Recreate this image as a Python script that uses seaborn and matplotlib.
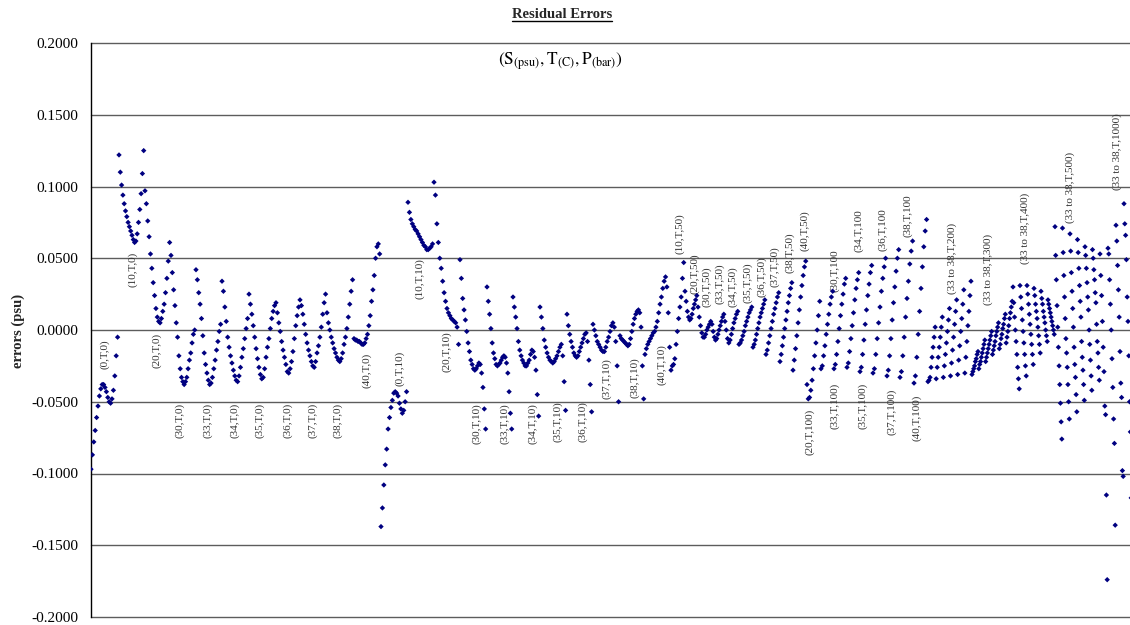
"""
Residual Errors — erreurs résiduelles par point de test (S, T, P)
"""
import numpy as np
import pandas as pd
import matplotlib
matplotlib.use("Agg")
import matplotlib.pyplot as plt
from matplotlib.lines import Line2D
from matplotlib.transforms import IdentityTransform
import seaborn as sns

# ── 1. Données (erreurs en psu) ───────────────────────────────────────────────
# P = 0 bar
p0_s0 = [-0.097, -0.087, -0.078, -0.070, -0.061, -0.053, -0.046, -0.041, -0.038, -0.038,
         -0.040, -0.043, -0.047, -0.050, -0.051, -0.048, -0.042, -0.032, -0.018, -0.005]
p0_s10 = [0.122, 0.110, 0.101, 0.094, 0.088, 0.083, 0.079, 0.075, 0.072, 0.069,
          0.066, 0.063, 0.061, 0.062, 0.067, 0.075, 0.084, 0.095, 0.109, 0.125]
p0_s20 = [0.097, 0.088, 0.076, 0.065, 0.053, 0.043, 0.033, 0.024, 0.015, 0.009,
          0.006, 0.005, 0.008, 0.013, 0.018, 0.026, 0.036, 0.048, 0.061]
p0_s30 = [0.052, 0.040, 0.028, 0.017, 0.005, -0.005, -0.018, -0.027, -0.033, -0.036,
          -0.038, -0.036, -0.033, -0.027, -0.021, -0.016, -0.009, -0.003, 0.000]
p0_s33 = [0.042, 0.035, 0.026, 0.018, 0.008, -0.004, -0.016, -0.024, -0.030, -0.035,
          -0.038, -0.037, -0.033, -0.027, -0.021, -0.014, -0.008, -0.001, 0.004]
p0_s34 = [0.034, 0.027, 0.016, 0.006, -0.005, -0.012, -0.018, -0.023, -0.028, -0.032,
          -0.035, -0.036, -0.032, -0.026, -0.019, -0.013, -0.006, 0.001, 0.008]
p0_s35 = [0.025, 0.018, 0.011, 0.003, -0.005, -0.013, -0.020, -0.026, -0.031, -0.034,
          -0.033, -0.027, -0.019, -0.012, -0.006, 0.001, 0.008, 0.013, 0.017]
p0_s36 = [0.019, 0.012, 0.005, -0.001, -0.008, -0.014, -0.019, -0.024, -0.029, -0.030,
          -0.027, -0.022, -0.015, -0.006, 0.003, 0.010, 0.016]
p0_s37 = [0.021, 0.017, 0.011, 0.004, -0.003, -0.009, -0.014, -0.018, -0.022, -0.025,
          -0.026, -0.022, -0.016, -0.011, -0.005, 0.002, 0.011, 0.019, 0.025]
p0_s38 = [0.012, 0.005, 0.000, -0.005, -0.009, -0.013, -0.016, -0.019, -0.021, -0.022,
          -0.020, -0.016, -0.010, -0.005, 0.001, 0.009, 0.018, 0.027, 0.035]
p0_s40 = [-0.006, -0.007, -0.007, -0.008, -0.008, -0.009, -0.010, -0.010, -0.009, -0.006,
          -0.003, 0.003, 0.010, 0.020, 0.028, 0.038, 0.050, 0.058, 0.060, 0.053]

# P = 10 bar
p10_s0 = [-0.137, -0.124, -0.108, -0.094, -0.083, -0.069, -0.061, -0.054, -0.049, -0.044,
          -0.043, -0.044, -0.046, -0.051, -0.055, -0.058, -0.056, -0.050, -0.043]
p10_s10 = [0.089, 0.082, 0.077, 0.074, 0.072, 0.070, 0.069, 0.067, 0.065, 0.063,
           0.061, 0.059, 0.058, 0.056, 0.056, 0.057, 0.058, 0.060]
p10_s20 = [0.103, 0.094, 0.074, 0.061, 0.050, 0.043, 0.034, 0.026, 0.020, 0.015,
           0.012, 0.010, 0.008, 0.007, 0.006, 0.005, 0.002, -0.010]
p10_s30 = [0.049, 0.036, 0.022, 0.014, 0.007, -0.001, -0.009, -0.015, -0.021, -0.024,
           -0.027, -0.028, -0.027, -0.025, -0.023, -0.024, -0.030, -0.040, -0.055, -0.069]
p10_s33 = [0.030, 0.020, 0.011, 0.001, -0.009, -0.016, -0.020, -0.024, -0.025, -0.024,
           -0.023, -0.021, -0.019, -0.018, -0.019, -0.023, -0.030, -0.043, -0.058, -0.069]
p10_s34 = [0.023, 0.016, 0.009, 0.001, -0.008, -0.014, -0.018, -0.021, -0.023, -0.025,
           -0.025, -0.023, -0.021, -0.017, -0.014, -0.015, -0.019, -0.028, -0.045, -0.060]
p10_s35 = [0.016, 0.009, 0.001, -0.007, -0.012, -0.016, -0.019, -0.021, -0.022, -0.023,
           -0.022, -0.020, -0.018, -0.015, -0.012, -0.010, -0.018, -0.036, -0.056]
p10_s36 = [0.011, 0.003, -0.003, -0.008, -0.012, -0.016, -0.018, -0.019, -0.018, -0.015,
           -0.012, -0.009, -0.006, -0.003, -0.002, -0.008, -0.021, -0.038, -0.057]
p10_s37 = [0.004, 0.000, -0.004, -0.008, -0.010, -0.012, -0.014, -0.015, -0.015, -0.012,
           -0.008, -0.005, -0.001, 0.003, 0.005, 0.002, -0.008, -0.025, -0.050]
p10_s38 = [-0.004, -0.006, -0.007, -0.008, -0.009, -0.010, -0.011, -0.010, -0.006, -0.001,
           0.004, 0.008, 0.011, 0.013, 0.014, 0.012, 0.002, -0.025, -0.048]
p10_s40 = [-0.017, -0.013, -0.010, -0.008, -0.006, -0.004, -0.002, -0.001, 0.002, 0.006,
           0.012, 0.018, 0.023, 0.029, 0.034, 0.037, 0.030, 0.012, -0.012]

# P = 50 bar
p50_s10 = [-0.028, -0.025, -0.024, -0.020, -0.010, -0.001, 0.008, 0.016, 0.023, 0.036, 0.047]
p50_s20 = [0.027, 0.020, 0.013, 0.009, 0.007, 0.008, 0.011, 0.015, 0.018, 0.021, 0.024]
p50_s30 = [0.016, 0.009, 0.003, -0.002, -0.005, -0.005, -0.003, 0.000, 0.002, 0.004, 0.006]
p50_s33 = [0.004, -0.001, -0.005, -0.007, -0.006, -0.003, 0.000, 0.003, 0.006, 0.009, 0.011]
p50_s34 = [0.006, 0.000, -0.006, -0.009, -0.007, -0.003, 0.001, 0.005, 0.008, 0.011, 0.013]
p50_s35 = [-0.010, -0.009, -0.007, -0.004, -0.001, 0.003, 0.006, 0.009, 0.012, 0.014, 0.016]
p50_s36 = [-0.012, -0.010, -0.007, -0.003, 0.001, 0.005, 0.009, 0.012, 0.015, 0.018, 0.021]
p50_s37 = [-0.017, -0.014, -0.009, -0.004, 0.001, 0.006, 0.011, 0.015, 0.019, 0.023, 0.026]
p50_s38 = [-0.022, -0.017, -0.011, -0.005, 0.001, 0.007, 0.013, 0.019, 0.024, 0.029, 0.033]
p50_s40 = [-0.028, -0.021, -0.013, -0.004, 0.005, 0.014, 0.023, 0.031, 0.038, 0.044, 0.048]

# P = 100 bar
p100_s20 = [-0.038, -0.048, -0.047, -0.042, -0.035, -0.027, -0.018, -0.009, 0.000, 0.010, 0.020]
p100_s30 = [-0.027, -0.025, -0.018, -0.011, -0.003, 0.004, 0.011, 0.018, 0.023, 0.027]
p100_s33 = [-0.027, -0.024, -0.017, -0.008, 0.001, 0.010, 0.018, 0.025, 0.032, 0.036]
p100_s34 = [-0.026, -0.023, -0.015, -0.006, 0.003, 0.012, 0.021, 0.029, 0.035, 0.040]
p100_s35 = [-0.029, -0.026, -0.017, -0.007, 0.004, 0.014, 0.024, 0.032, 0.040, 0.045]
p100_s36 = [-0.030, -0.027, -0.017, -0.006, 0.005, 0.016, 0.027, 0.036, 0.044, 0.050]
p100_s37 = [-0.032, -0.028, -0.018, -0.006, 0.007, 0.019, 0.030, 0.041, 0.050, 0.056]
p100_s38 = [-0.033, -0.029, -0.018, -0.005, 0.009, 0.022, 0.034, 0.046, 0.055, 0.062]
p100_s40 = [-0.037, -0.032, -0.019, -0.003, 0.013, 0.029, 0.044, 0.058, 0.069, 0.077]

# S = 33 to 38, one column per salinity
p200_cols = [[-0.036, -0.035, -0.033, -0.026, -0.019, -0.012, -0.005, 0.002],
             [-0.034, -0.026, -0.019, -0.012, -0.005, 0.002, 0.009],
             [-0.033, -0.025, -0.017, -0.009, -0.001, 0.007, 0.015],
             [-0.032, -0.023, -0.014, -0.005, 0.004, 0.013, 0.021],
             [-0.031, -0.021, -0.011, -0.001, 0.008, 0.018, 0.028],
             [-0.030, -0.019, -0.008, 0.003, 0.013, 0.024, 0.034]]
p300_cols = [[-0.031, -0.029, -0.027, -0.025, -0.022, -0.020, -0.017, -0.015],
             [-0.027, -0.024, -0.022, -0.019, -0.016, -0.013, -0.010, -0.007],
             [-0.022, -0.019, -0.016, -0.013, -0.010, -0.007, -0.004, -0.001],
             [-0.017, -0.014, -0.011, -0.008, -0.004, -0.001, 0.002, 0.005],
             [-0.013, -0.010, -0.006, -0.003, 0.001, 0.004, 0.008, 0.011],
             [-0.009, -0.005, -0.001, 0.003, 0.008, 0.012, 0.016, 0.020]]
p400_cols = [[0.030, 0.019, 0.009, 0.000, -0.008, -0.017, -0.026, -0.034, -0.041],
             [0.031, 0.023, 0.015, 0.007, -0.001, -0.009, -0.017, -0.025, -0.032],
             [0.031, 0.025, 0.018, 0.011, 0.004, -0.003, -0.010, -0.017, -0.024],
             [0.029, 0.024, 0.018, 0.013, 0.008, 0.002, -0.004, -0.010, -0.016],
             [0.027, 0.022, 0.018, 0.013, 0.009, 0.005, 0.000, -0.004, -0.008],
             [0.021, 0.018, 0.015, 0.012, 0.009, 0.006, 0.003, 0.000, -0.003]]
p500_cols = [[0.072, 0.052, 0.035, 0.017, 0.002, -0.012, -0.025, -0.038, -0.051, -0.064, -0.076],
             [0.071, 0.054, 0.038, 0.023, 0.008, -0.006, -0.016, -0.026, -0.038, -0.050, -0.062],
             [0.067, 0.055, 0.040, 0.027, 0.015, 0.002, -0.012, -0.024, -0.033, -0.045, -0.057],
             [0.063, 0.054, 0.043, 0.031, 0.020, 0.009, -0.008, -0.019, -0.028, -0.038, -0.049],
             [0.058, 0.052, 0.043, 0.033, 0.023, 0.014, 0.000, -0.010, -0.021, -0.032, -0.042],
             [0.056, 0.050, 0.042, 0.035, 0.026, 0.019, 0.004, -0.008, -0.016, -0.026, -0.035]]
p1000_cols = [[0.053, 0.038, 0.024, 0.006, -0.012, -0.029, -0.053, -0.059, -0.115, -0.174],
              [0.057, 0.053, 0.035, 0.018, 0.000, -0.020, -0.040, -0.062, -0.079, -0.136],
              [0.073, 0.062, 0.045, 0.028, 0.009, -0.015, -0.037, -0.047, -0.098, -0.102],
              [0.088, 0.074, 0.066, 0.049, 0.023, 0.006, -0.018, -0.050, -0.071, -0.117]]

# ── 2. Séries, nombre de points par série et étiquettes ───────────────────────
seg_labels = ["(0,T,0)", "(10,T,0)", "(20,T,0)", "(30,T,0)", "(33,T,0)", "(34,T,0)",
              "(35,T,0)", "(36,T,0)", "(37,T,0)", "(38,T,0)", "(40,T,0)",
              "(0,T,10)", "(10,T,10)", "(20,T,10)", "(30,T,10)", "(33,T,10)", "(34,T,10)",
              "(35,T,10)", "(36,T,10)", "(37,T,10)", "(38,T,10)", "(40,T,10)",
              "(10,T,50)", "(20,T,50)", "(30,T,50)", "(33,T,50)", "(34,T,50)",
              "(35,T,50)", "(36,T,50)", "(37,T,50)", "(38,T,50)", "(40,T,50)",
              "(20,T,100)", "(30,T,100", "(33,T,100)", "(34,T,100", "(35,T,100)",
              "(36,T,100", "(37,T,100)", "(38,T,100", "(40,T,100)",
              "(33 to 38,T,200)", "(33 to 38,T,300)", "(33 to 38,T,400)",
              "(33 to 38,T,500)", "(33 to 38,T,1000)"]
seg_values = [p0_s0, p0_s10, p0_s20, p0_s30, p0_s33, p0_s34, p0_s35, p0_s36, p0_s37,
              p0_s38, p0_s40,
              p10_s0, p10_s10, p10_s20, p10_s30, p10_s33, p10_s34, p10_s35, p10_s36,
              p10_s37, p10_s38, p10_s40,
              p50_s10, p50_s20, p50_s30, p50_s33, p50_s34, p50_s35, p50_s36, p50_s37,
              p50_s38, p50_s40,
              p100_s20, p100_s30, p100_s33, p100_s34, p100_s35, p100_s36, p100_s37,
              p100_s38, p100_s40,
              sum(p200_cols, []), sum(p300_cols, []), sum(p400_cols, []),
              sum(p500_cols, []), sum(p1000_cols, [])]
seg_points = [28, 26, 26, 25, 26, 27, 27, 24, 27, 27, 27,
              27, 26, 26, 27, 26, 27, 27, 26, 27, 25, 26,
              14, 13, 14, 13, 14, 14, 13, 14, 13, 14,
              14, 13, 13, 13, 13, 14, 13, 14, 14,
              44, 41, 42, 45, 32]

label_x = [14, 42, 66, 89, 117, 144, 169, 197, 222, 247, 276,
           309, 329, 356, 386, 414, 442, 467, 492, 516, 544, 571,
           589, 604, 616, 629, 642, 657, 671, 684, 699, 714,
           719, 744, 744, 768, 772, 792, 801, 817, 826,
           861, 897, 934, 979, 1026]
label_y = [-0.017, 0.042, -0.014, -0.063, -0.063, -0.063, -0.063, -0.063, -0.063, -0.063, -0.028,
           -0.027, 0.036, -0.015, -0.065, -0.065, -0.065, -0.064, -0.064, -0.034, -0.033, -0.024,
           0.067, 0.039, 0.030, 0.032, 0.030, 0.033, 0.037, 0.044, 0.054, 0.069,
           -0.071, 0.041, -0.053, 0.069, -0.053, 0.070, -0.057, 0.080, -0.061,
           0.050, 0.042, 0.071, 0.099, 0.124]

y_ticks = [-0.2, -0.15, -0.1, -0.05, 0.0, 0.05, 0.1, 0.15, 0.2]
y_tick_labels = ["-0.2000", "-0.1500", "-0.1000", "-0.0500", "0.0000",
                 "0.0500", "0.1000", "0.1500", "0.2000"]

rows = []
start = 0
for lab, vals, n in zip(seg_labels, seg_values, seg_points):
    step = n / len(vals)
    for i, v in enumerate(vals):
        rows.append((start + i * step, v, lab))
    start += n
df = pd.DataFrame(rows, columns=["point", "error", "run"])

# ── 3. Figure ─────────────────────────────────────────────────────────────────
sns.set_style("white")
plt.rcParams["font.family"] = ["Liberation Serif", "DejaVu Serif"]
plt.rcParams["mathtext.fontset"] = "stix"

fig = plt.figure(figsize=(11.3, 6.25), dpi=100)
ax = fig.add_axes([91 / 1130, 8 / 625, 1039 / 1130, 574 / 625])

for v in y_ticks:
    ax.axhline(v, color="#5c5c5c", lw=1.0, zorder=1, clip_on=False)

sns.scatterplot(data=df, x="point", y="error", marker="D", s=7.5, color="#000080",
                edgecolor="none", linewidth=0, legend=False, ax=ax, zorder=3)

ax.set_xlim(0, 1039)
ax.set_ylim(-0.2, 0.2)
ax.set_xticks([])
ax.set_yticks(y_ticks)
ax.set_yticklabels(y_tick_labels)
ax.set_xlabel("")
ax.set_ylabel("")
ax.tick_params(axis="y", direction="out", length=5, width=1, color="black",
               labelsize=11, pad=4, labelcolor="black")
for side in ["top", "right", "bottom"]:
    ax.spines[side].set_visible(False)
ax.spines["left"].set_color("black")
ax.spines["left"].set_linewidth(1.0)

for txt, lx, ly in zip(seg_labels, label_x, label_y):
    ax.text(lx, ly, txt, rotation=90, ha="center", va="center", fontsize=8,
            color="#333333", zorder=2)

ax.text(469, 0.187, r"$(\mathrm{S}_{\mathrm{(psu)}},\mathrm{T}_{\mathrm{(C)}},\mathrm{P}_{\mathrm{(bar)}})$",
        ha="center", va="center", fontsize=12.5, color="black")

fig.text(18 / 1130, 1 - 331 / 625, "errors (psu)", rotation=90, ha="center", va="center",
         fontsize=10.5, fontweight="bold")
title = fig.text(562 / 1130, 1 - 15 / 625, "Residual Errors", ha="center", va="center",
                 fontsize=10.5, fontweight="bold")

fig.canvas.draw()
bb = title.get_window_extent(fig.canvas.get_renderer())
fig.add_artist(Line2D([bb.x0, bb.x1], [bb.y0 + 1, bb.y0 + 1], transform=IdentityTransform(),
                      color="black", lw=1))

fig.savefig("out.png", dpi=100)
